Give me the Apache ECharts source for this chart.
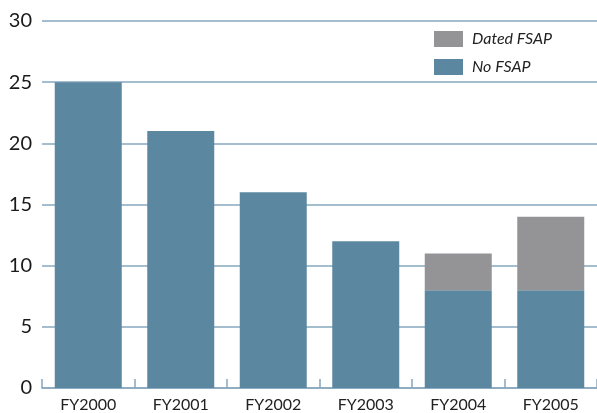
<!DOCTYPE html>
<html><head><meta charset="utf-8">
<script src="https://cdn.jsdelivr.net/npm/echarts@6/dist/echarts.min.js"></script>
<style>html,body{margin:0;padding:0;background:#fff}#c{width:597px;height:413px}</style>
</head><body><div id="c"></div>
<script>
const categories = ['FY2000','FY2001','FY2002','FY2003','FY2004','FY2005'];
const noFSAP = [25, 21, 16, 12, 8, 8];
const datedFSAP = [0, 0, 0, 0, 3, 6];
const yTicks = [0, 5, 10, 15, 20, 25, 30];

const blue = '#5c87a1', gray = '#949497', line = '#86a7bf';
const font = 'Lato, "DejaVu Sans", sans-serif';
const chart = echarts.init(document.getElementById('c'));
chart.setOption({
  animation: false,
  grid: { left: 42, width: 558, top: 21, bottom: 24, containLabel: false },
  legend: {
    orient: 'vertical', left: 434, top: 31, itemWidth: 29, itemHeight: 16, itemGap: 12,
    padding: 0,
    icon: 'rect',
    data: ['Dated FSAP', 'No FSAP'],
    textStyle: { fontFamily: font, fontStyle: 'italic', fontSize: 16, color: '#222', padding: [0,0,0,4] }
  },
  xAxis: {
    type: 'category', data: categories,
    axisLine: { lineStyle: { color: line, width: 1.5 } },
    axisTick: { show: true, inside: true, length: 9, lineStyle: { color: line, width: 1.5 } },
    axisLabel: { fontFamily: font, fontSize: 16, color: '#222', margin: 9 }
  },
  yAxis: {
    type: 'value', min: 0, max: 30, interval: 5,
    axisLine: { show: false }, axisTick: { show: false },
    splitLine: { lineStyle: { color: line, width: 1.5 } },
    axisLabel: { fontFamily: font, fontSize: 20, color: '#1a1a1a', margin: 10,
      formatter: v => yTicks.includes(v) ? String(v) : '' }
  },
  series: [
    { name: 'No FSAP', type: 'bar', stack: 's', data: noFSAP, barWidth: 67, itemStyle: { color: blue } },
    { name: 'Dated FSAP', type: 'bar', stack: 's', data: datedFSAP, barWidth: 67, itemStyle: { color: gray } }
  ]
});
</script></body></html>
